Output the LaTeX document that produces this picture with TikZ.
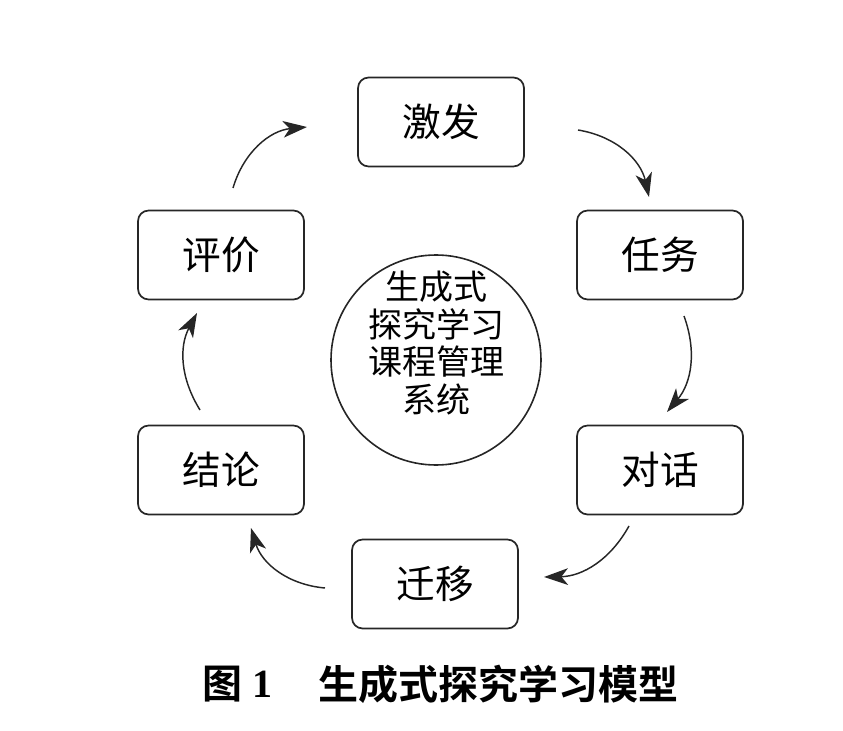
\documentclass[tikz,border=0pt]{standalone}
\usepackage{fontspec}
\usetikzlibrary{arrows.meta}
\newfontfamily\cjk[BoldFont={Noto Sans CJK SC Bold}]{Noto Sans CJK SC}
\newfontfamily\numfont{Liberation Serif}
\begin{document}
\begin{tikzpicture}[x=0.75pt,y=-0.75pt,
  stagebox/.style={draw=black!85, line width=1.3pt, rounded corners=8pt,
    minimum width=124.5pt, minimum height=66.75pt, inner sep=0pt,
    font=\cjk\fontsize{29}{32}\selectfont},
  hub/.style={draw=black!85, line width=1.2pt, circle, minimum size=157.5pt,
    inner sep=0pt},
  hubtext/.style={align=center, inner sep=0pt, font=\cjk\fontsize{25.5}{28.2}\selectfont},
  cyc/.style={line width=1.1pt, black!85,
    -{Stealth[length=18pt,width=12.5pt,inset=5pt]}, bend left=#1},
  cyc/.default=32,
  captext/.style={font=\cjk\bfseries\fontsize{30}{32}\selectfont, inner sep=0pt}]
\useasboundingbox (0,0) rectangle (843,731);
\node[stagebox] (jf) at (441,122) {激发};
\node[stagebox] (rw) at (660,255) {任务};
\node[stagebox] (dh) at (660,470) {对话};
\node[stagebox] (qy) at (435,584) {迁移};
\node[stagebox] (jl) at (221,470) {结论};
\node[stagebox] (pj) at (221,255) {评价};
\node[hub] (hub) at (436,360) {};
\node[hubtext] (hubt) at (436,343) {生成式\\探究学习\\课程管理\\系统};
\coordinate (a1s) at (233,188); \coordinate (a1e) at (307,127);
\coordinate (a2s) at (578,130); \coordinate (a2e) at (649,197);
\coordinate (a3s) at (684,316); \coordinate (a3e) at (667,412);
\coordinate (a4s) at (629,526); \coordinate (a4e) at (544,577);
\coordinate (a5s) at (325,588); \coordinate (a5e) at (251,528);
\coordinate (a6s) at (200,410); \coordinate (a6e) at (197,313);
\draw[cyc=34] (a1s) to (a1e);
\draw[cyc=34] (a2s) to (a2e);
\draw[cyc=30] (a3s) to (a3e);
\draw[cyc=30] (a4s) to (a4e);
\draw[cyc=34] (a5s) to (a5e);
\draw[cyc=30] (a6s) to (a6e);
\node[captext] (fig) at (222,684) {图};
\node[captext, font=\numfont\bfseries\fontsize{30}{32}\selectfont] (num) at (262,684) {1};
\node[captext, anchor=west] (title) at (318,684) {生成式探究学习模型};
\end{tikzpicture}
\end{document}
